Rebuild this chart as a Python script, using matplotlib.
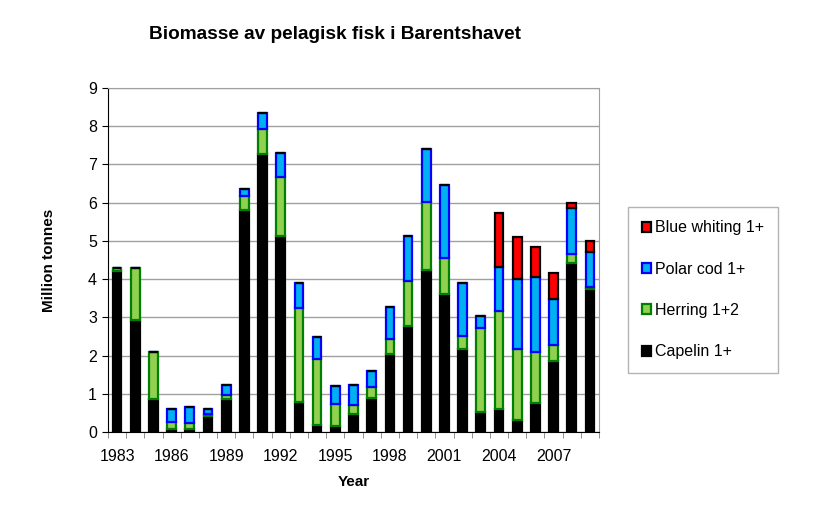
import matplotlib
matplotlib.use("Agg")
import matplotlib.pyplot as plt
import numpy as np

plt.rcParams['font.family'] = ['Liberation Sans', 'DejaVu Sans']

years = list(range(1983, 2010))
capelin = [4.20, 2.94, 0.85, 0.09, 0.09, 0.41, 0.85, 5.82, 7.27, 5.13,
           0.79, 0.18, 0.16, 0.48, 0.89, 2.03, 2.77, 4.25, 3.61, 2.18,
           0.51, 0.59, 0.31, 0.76, 1.86, 4.42, 3.74]
herring = [0.08, 1.35, 1.24, 0.17, 0.15, 0.07, 0.11, 0.35, 0.65, 1.55,
           2.46, 1.72, 0.58, 0.22, 0.29, 0.39, 1.18, 1.76, 0.95, 0.33,
           2.21, 2.58, 1.87, 1.33, 0.41, 0.23, 0.06]
polar_cod = [0.0, 0.0, 0.0, 0.35, 0.41, 0.13, 0.26, 0.18, 0.42, 0.62,
             0.65, 0.59, 0.46, 0.52, 0.42, 0.85, 1.18, 1.39, 1.90, 1.40,
             0.31, 1.15, 1.81, 1.97, 1.22, 1.22, 0.90]
blue_whiting = [0.0] * 21 + [1.40, 1.11, 0.77, 0.68, 0.13, 0.29]
tick_years = [1983, 1986, 1989, 1992, 1995, 1998, 2001, 2004, 2007]

series = [
    ("Capelin 1+", capelin, "#000000", "#000000"),
    ("Herring 1+2", herring, "#92d050", "#008000"),
    ("Polar cod 1+", polar_cod, "#00b0f0", "#0000ff"),
    ("Blue whiting 1+", blue_whiting, "#ff0000", "#000000"),
]

fig = plt.figure(figsize=(8.2, 5.13), dpi=100)
ax = fig.add_axes([0.1317, 0.158, 0.5988, 0.6705])

x = np.arange(len(years))
bottom = np.zeros(len(years))
handles = []
for name, vals, fc, ec in series:
    vals = np.array(vals)
    h = ax.bar(x, vals, 0.48, bottom=bottom, color=fc, edgecolor=ec,
               linewidth=1.6, label=name, zorder=3)
    handles.append(h)
    bottom += vals

ax.set_xlim(-0.5, len(years) - 0.5)
ax.set_ylim(0, 9)
ax.set_yticks(range(0, 10))
ax.yaxis.grid(True, color="#a0a0a0", linewidth=1, zorder=0)
ax.set_xticks([years.index(y) for y in tick_years])
ax.set_xticklabels([str(y) for y in tick_years])
ax.set_xticks(np.arange(-0.5, len(years), 1), minor=True)
ax.tick_params(axis='x', which='major', length=0, labelsize=11.5, pad=12)
ax.tick_params(axis='x', which='minor', length=4, direction='out', color='#808080')
ax.tick_params(axis='y', length=4, direction='out', labelsize=11.5, pad=4)

for s in ['top', 'right']:
    ax.spines[s].set_color('#a0a0a0')
ax.spines['left'].set_color('#000000')
ax.spines['bottom'].set_color('#000000')

ax.set_ylabel("Million tonnes", fontsize=11, fontweight='bold', labelpad=23)
ax.set_xlabel("Year", fontsize=11, fontweight='bold', labelpad=8)
fig.text(0.4085, 0.932, "Biomasse av pelagisk fisk i Barentshavet",
         ha='center', va='center', fontsize=13.7, fontweight='bold')

leg = fig.legend(handles[::-1], [s[0] for s in series][::-1],
                 loc='upper left', bbox_to_anchor=(0.766, 0.597),
                 fontsize=11.5, frameon=True, fancybox=False,
                 handlelength=0.6, handleheight=0.6, handletextpad=0.25,
                 labelspacing=1.65, borderpad=0.85, borderaxespad=0)
leg.get_frame().set_edgecolor('#a0a0a0')
leg.get_frame().set_linewidth(1)

fig.savefig("out.png", dpi=100)
